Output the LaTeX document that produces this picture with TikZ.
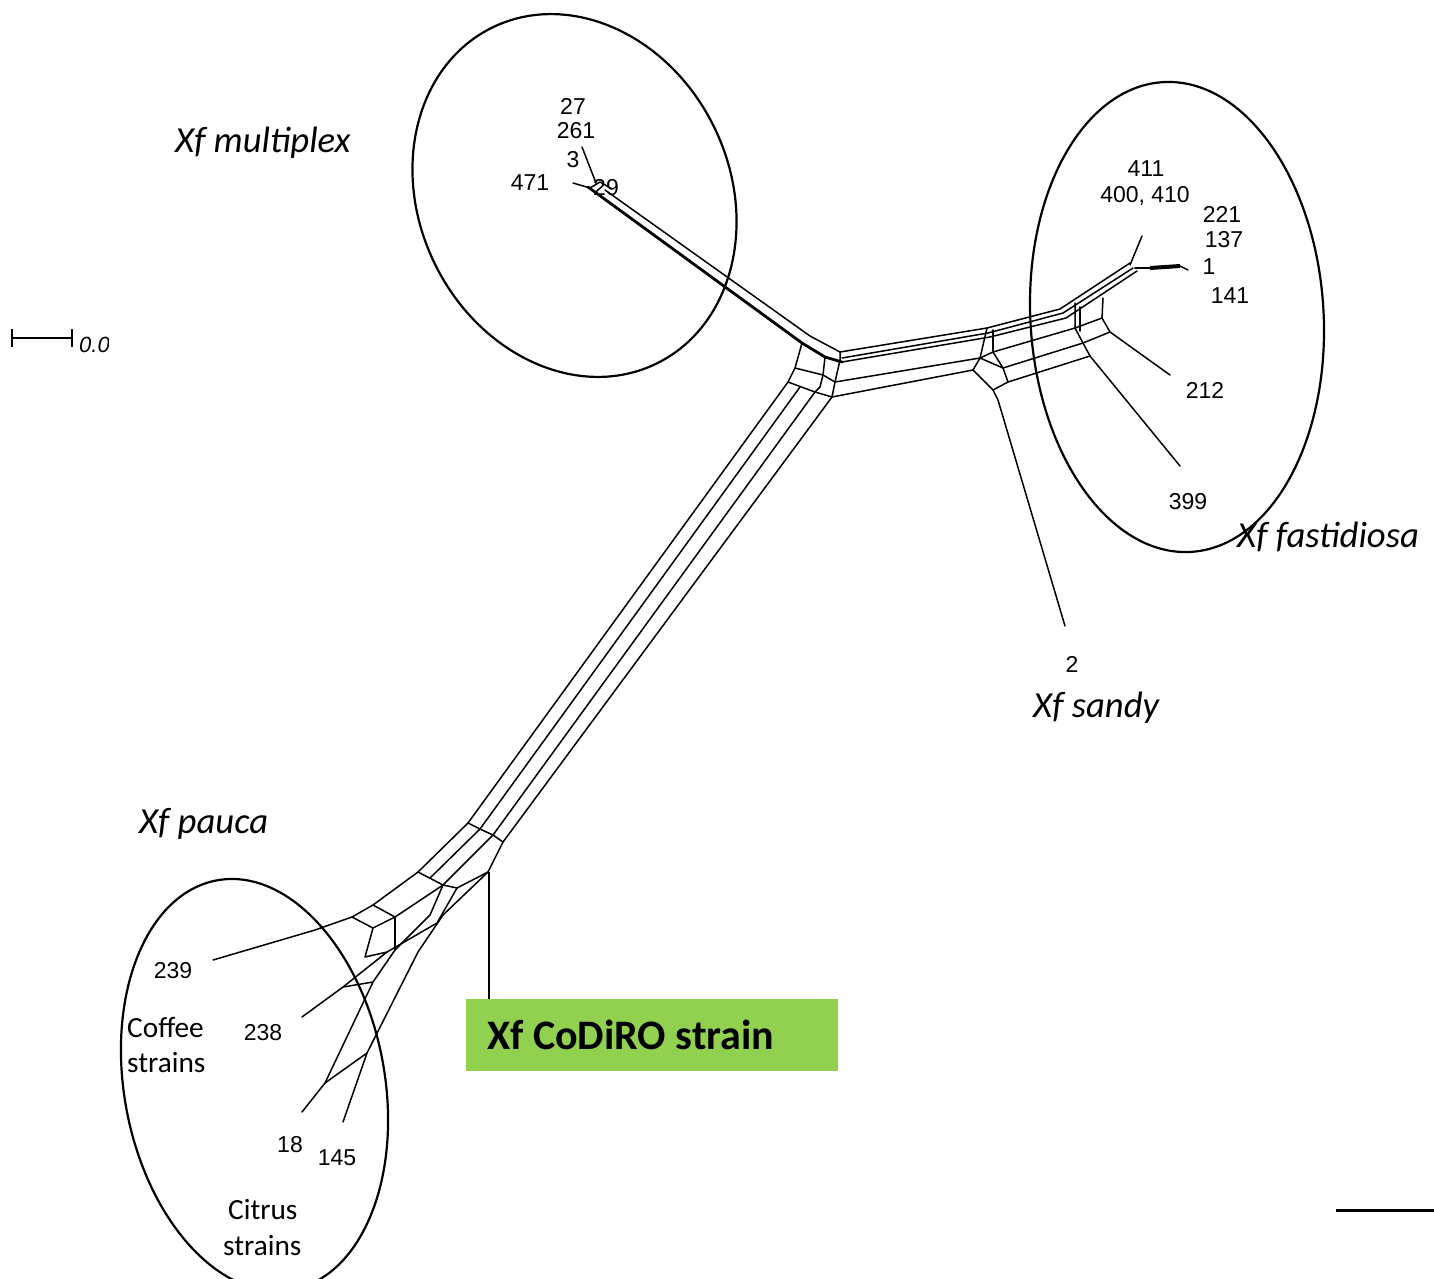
\documentclass[tikz,border=0pt]{standalone}
\usepackage{fontspec}
\setmainfont{Carlito}
\newfontfamily\numfont{Liberation Sans}
\definecolor{codgreen}{HTML}{92D050}
\begin{document}
\begin{tikzpicture}[x=1pt,y=-1pt,
  net/.style={line width=1.5pt, line join=round, line cap=round},
  netthick/.style={line width=2.8pt, line join=round, line cap=round},
  ring/.style={line width=2.2pt},
  grp/.style={font=\fontsize{36.7}{40}\selectfont\itshape, anchor=base west, inner sep=0pt},
  crop/.style={font=\fontsize{29.3}{32}\selectfont, anchor=base west, inner sep=0pt},
  num/.style={font=\numfont\fontsize{23}{25}\selectfont, inner sep=0pt}]
\useasboundingbox (0,0) rectangle (1434,1278);
\clip (0,0) rectangle (1434,1278);
\fill[white] (0,0) rectangle (1434,1278);

% ---- labels (numbers) ----
\node[num] (n29) at (606,188) {29};
\node[num] (n27) at (573,106) {27};
\node[num] (n261) at (576,131) {261};
\node[num] (n3) at (573,160) {3};
\node[num] (n471) at (530,183) {471};
\node[num] (n411) at (1146,169) {411};
\node[num] (n400) at (1145,196) {400, 410};
\node[num] (n221) at (1222,214) {221};
\node[num] (n137) at (1224,240) {137};
\node[num] (n1) at (1209,267) {1};
\node[num] (n141) at (1230,296) {141};
\node[num] (n212) at (1205,390) {212};
\node[num] (n399) at (1188,502) {399};
\node[num] (n2) at (1072,664) {2};
\node[num] (n239) at (173,971) {239};
\node[num] (n238) at (263,1033) {238};
\node[num] (n18) at (290,1145) {18};
\node[num] (n145) at (337,1158) {145};

% ---- scale bar ----
\coordinate (sb1) at (12,338);
\coordinate (sb2) at (72,338);
\draw[line width=2pt] (sb1) -- (sb2);
\draw[line width=2pt] (12,329) -- (12,347);
\draw[line width=2pt] (72,329) -- (72,347);
\begin{scope}
\clip (74,320) rectangle (108,360);
\node[font=\numfont\itshape\fontsize{22}{24}\selectfont, anchor=base west, inner sep=0pt] (sbl) at (79,352) {0.01};
\end{scope}

% ---- multiplex branch ----
\draw[net] (573,183) -- (590,188);
\draw[net] (582,147) -- (596,183);
\draw[net] (590,188) -- (600,182) -- (612,189);
\draw[netthick] (588,187) -- (802,343) -- (825,357) -- (842,362);
\draw[net] (605,190) -- (810,336) -- (840,352);

% ---- central junction ----
\draw[net] (802,343) -- (795,368) -- (788,382);
\draw[net] (795,368) -- (823,375);
\draw[net] (788,382) -- (815,392);
\draw[net] (825,357) -- (823,375) -- (820,387) -- (815,392);
\draw[net] (840,352) -- (840,360) -- (835,382) -- (832,397);
\draw[net] (823,375) -- (835,382);
\draw[net] (815,392) -- (832,397);

% ---- long pauca band ----
\draw[net] (788,382) -- (468,823);
\draw[net] (800,387) -- (480,829);
\draw[net] (815,392) -- (493,835);
\draw[net] (832,397) -- (503,842);

% ---- fastidiosa side ----
\draw[net] (840,352) -- (987,328) -- (1060,309) -- (1130,263);
\draw[net] (842,358) -- (988,333) -- (1063,313) -- (1133,268);
\draw[net] (842,362) -- (990,337) -- (1066,318) -- (1137,271);
\draw[net] (835,382) -- (980,358);
\draw[net] (832,397) -- (973,370);
% sandy box
\draw[net] (987,328) -- (980,358) -- (973,370);
\draw[net] (993,330) -- (993,352);
\draw[net] (980,358) -- (993,352) -- (1003,368);
\draw[net] (980,358) -- (1003,368) -- (1008,382) -- (993,390) -- (973,370);
\draw[net] (993,390) -- (998,400) -- (1065,626);
% towards fastidiosa box
\draw[net] (993,352) -- (1075,328) -- (1102,318);
\draw[net] (1003,368) -- (1083,343);
\draw[net] (1008,382) -- (1090,356);
\draw[net] (1075,303) -- (1075,328) -- (1083,343) -- (1090,356);
\draw[net] (1080,307) -- (1080,331);
\draw[net] (1103,298) -- (1102,318) -- (1110,332);
\draw[net] (1083,343) -- (1110,332);
\draw[net] (1110,332) -- (1170,375);
\draw[net] (1090,356) -- (1180,466);
% tips
\draw[net] (1130,265) -- (1142,236);
\draw[net] (1135,268) -- (1150,268);
\draw[line width=4pt] (1150,268) -- (1180,266);
\draw[net] (1180,266) -- (1188,270);

% ---- pauca cluster ----
\draw[net] (468,823) -- (418,872) -- (373,905) -- (352,917) -- (315,930) -- (213,960);
\draw[net] (468,823) -- (480,829) -- (493,835) -- (503,842);
\draw[net] (418,872) -- (443,885) -- (457,888);
\draw[net] (480,829) -- (430,878);
\draw[net] (493,835) -- (443,885) -- (395,917);
\draw[net] (373,905) -- (395,917) -- (373,928) -- (352,917);
\draw[net] (503,842) -- (488,872) -- (457,888);
\draw[net] (457,888) -- (437,923) -- (387,952) -- (343,987) -- (302,1017);
\draw[net] (443,885) -- (430,915) -- (395,950) -- (373,982) -- (325,1083) -- (302,1112);
\draw[net] (488,872) -- (443,915) -- (418,952) -- (367,1053) -- (343,1122);
\draw[net] (325,1083) -- (367,1053);
\draw[net] (343,987) -- (373,982);
\draw[net] (373,928) -- (365,957) -- (387,952);
\draw[net] (395,917) -- (395,950);

% CoDiRO marker
\coordinate (cod) at (489,872);
\node[fill=codgreen, minimum width=372pt, minimum height=72pt, inner sep=0pt, anchor=north west] (codbox) at (466,999) {};
\node[font=\fontsize{42}{44}\selectfont\bfseries, anchor=base west, inner sep=0pt] (codlab) at (487,1049) {Xf CoDiRO strain};
\draw[line width=1.3pt] (cod) -- (codbox.north -| cod);

% ---- ellipses ----
\draw[ring, rotate around={26:(574.5,195.5)}] (574.5,195.5) ellipse [x radius=155.5pt, y radius=187pt];
\draw[ring, rotate around={3.4:(1177,317)}] (1177,317) ellipse [x radius=146.6pt, y radius=235.3pt];
\draw[ring, rotate around={10.4:(254.5,1085)}] (254.5,1085) ellipse [x radius=130.3pt, y radius=208.1pt];

% ---- group labels ----
\node[grp] (lmul) at (175,152) {Xf multiplex};
\node[grp] (lfas) at (1237,547) {Xf fastidiosa};
\node[grp] (lsan) at (1033,717) {Xf sandy};
\node[grp] (lpau) at (139,833) {Xf pauca};
\node[crop] (lcof1) at (127,1037) {Coffee};
\node[crop] (lcof2) at (127,1072) {strains};
\node[crop] (lcit1) at (228,1219) {Citrus};
\node[crop] (lcit2) at (223,1255) {strains};

% bottom-right rule
\coordinate (br1) at (1336,1210);
\coordinate (br2) at (1434,1210);
\draw[line width=3pt] (br1) -- (br2);
\end{tikzpicture}
\end{document}
